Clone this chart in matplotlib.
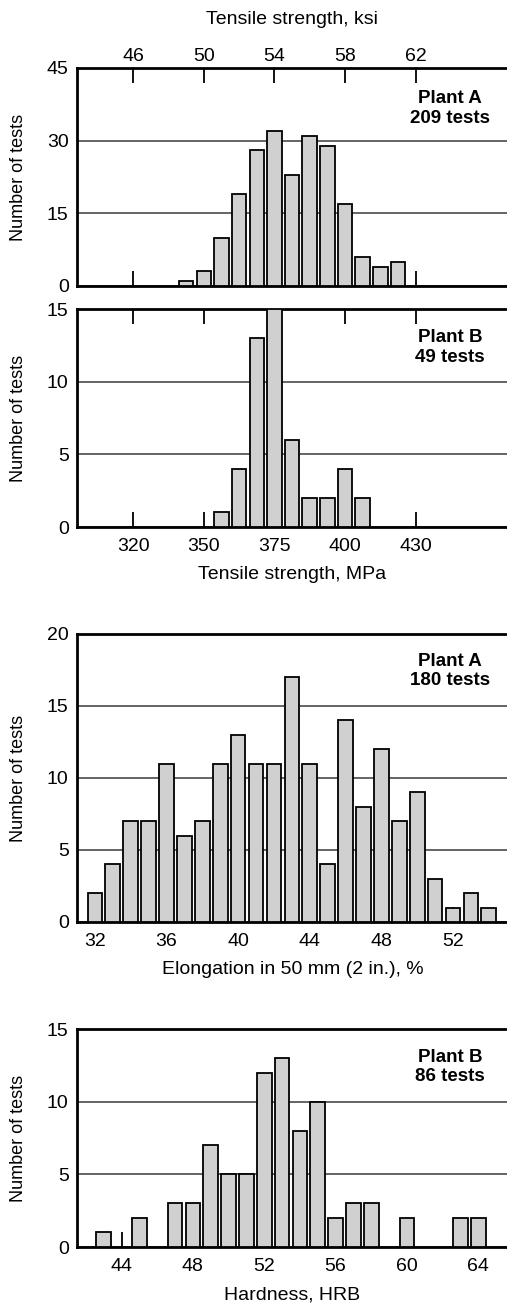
import matplotlib
matplotlib.use("Agg")
import matplotlib.pyplot as plt
from matplotlib.ticker import FixedLocator, FixedFormatter

plt.rcParams['font.family'] = ['Liberation Sans', 'DejaVu Sans']

# Tensile strength (bin centres in ksi)
plant_a_ts_ksi = [49, 50, 51, 52, 53, 54, 55, 56, 57, 58, 59, 60, 61]
plant_a_ts_count = [1, 3, 10, 19, 28, 32, 23, 31, 29, 17, 6, 4, 5]
plant_b_ts_ksi = [51, 52, 53, 54, 55, 56, 57, 58, 59]
plant_b_ts_count = [1, 4, 13, 15, 6, 2, 2, 4, 2]
ksi_ticks = [46, 50, 54, 58, 62]
mpa_labels = ["320", "350", "375", "400", "430"]

# Elongation, Plant A
elong_pct = [32, 33, 34, 35, 36, 37, 38, 39, 40, 41, 42, 43, 44, 45, 46, 47,
             48, 49, 50, 51, 52, 53, 54]
elong_count = [2, 4, 7, 7, 11, 6, 7, 11, 13, 11, 11, 17, 11, 4, 14, 8,
               12, 7, 9, 3, 1, 2, 1]
elong_ticks = [32, 36, 40, 44, 48, 52]

# Hardness, Plant B
hrb = [43, 45, 47, 48, 49, 50, 51, 52, 53, 54, 55, 56, 57, 58, 60, 63, 64]
hrb_count = [1, 2, 3, 3, 7, 5, 5, 12, 13, 8, 10, 2, 3, 3, 2, 2, 2]
hrb_ticks = [44, 48, 52, 56, 60, 64]

W, H = 507, 1309
fig = plt.figure(figsize=(W / 100, H / 100), dpi=100)

FS_TICK = 14
FS_XLAB = 14
FS_YLAB = 13
FS_TAG = 13.5
BAR_FC = '#d0d0d0'
GRID_C = '#3a3a3a'


def make_axes(top, bottom, left=77, right=508):
    return fig.add_axes([left / W, 1 - bottom / H, (right - left) / W, (bottom - top) / H])


def style(ax, ylim, yticks, xlim):
    ax.set_xlim(*xlim)
    ax.set_ylim(*ylim)
    ax.set_axisbelow(True)
    ax.yaxis.set_major_locator(FixedLocator(yticks))
    ax.yaxis.grid(True, color=GRID_C, linewidth=1.1)
    ax.tick_params(axis='y', length=0, labelsize=FS_TICK, pad=6)
    ax.tick_params(axis='x', direction='in', length=10.5, width=1.3,
                   labelsize=FS_TICK, pad=8)
    for s in ('left', 'bottom', 'top'):
        ax.spines[s].set_linewidth(2.0)
    ax.spines['right'].set_visible(False)
    ax.set_ylabel("Number of tests", fontsize=FS_YLAB, labelpad=14)


def bars(ax, x, y):
    ax.bar(x, y, width=0.82, color=BAR_FC, edgecolor='black', linewidth=1.3, zorder=3)


def tag(ax, text, yc):
    ax.text(0.866, yc, text, transform=ax.transAxes, ha='center', va='center',
            fontsize=FS_TAG, fontweight='bold', linespacing=1.2)


ts_xlim = (42.82, 67.23)

# Panel 1: tensile strength, Plant A
ax1 = make_axes(68, 286)
bars(ax1, plant_a_ts_ksi, plant_a_ts_count)
style(ax1, (0, 45), [0, 15, 30, 45], ts_xlim)
ax1.xaxis.set_major_locator(FixedLocator(ksi_ticks))
ax1.tick_params(axis='x', top=True, bottom=True, labeltop=True, labelbottom=False, pad=2.5)
ax1.xaxis.set_label_position('top')
ax1.set_xlabel("Tensile strength, ksi", fontsize=FS_XLAB, labelpad=17)
tag(ax1, "Plant A\n209 tests", 0.814)

# Panel 2: tensile strength, Plant B
ax2 = make_axes(309, 527)
bars(ax2, plant_b_ts_ksi, plant_b_ts_count)
style(ax2, (0, 15), [0, 5, 10, 15], ts_xlim)
ax2.xaxis.set_major_locator(FixedLocator(ksi_ticks))
ax2.xaxis.set_major_formatter(FixedFormatter(mpa_labels))
ax2.tick_params(axis='x', top=True, bottom=True, labeltop=False, labelbottom=True)
ax2.set_xlabel("Tensile strength, MPa", fontsize=FS_XLAB, labelpad=8)
tag(ax2, "Plant B\n49 tests", 0.824)

# Panel 3: elongation, Plant A
ax3 = make_axes(634, 922)
bars(ax3, elong_pct, elong_count)
style(ax3, (0, 20), [0, 5, 10, 15, 20], (31.0, 55.07))
ax3.xaxis.set_major_locator(FixedLocator(elong_ticks))
ax3.tick_params(axis='x', top=False, bottom=True)
ax3.set_xlabel("Elongation in 50 mm (2 in.), %", fontsize=FS_XLAB, labelpad=8)
tag(ax3, "Plant A\n180 tests", 0.872)

# Panel 4: hardness, Plant B
ax4 = make_axes(1029, 1247)
bars(ax4, hrb, hrb_count)
style(ax4, (0, 15), [0, 5, 10, 15], (41.5, 65.67))
ax4.xaxis.set_major_locator(FixedLocator(hrb_ticks))
ax4.tick_params(axis='x', top=False, bottom=True)
ax4.set_xlabel("Hardness, HRB", fontsize=FS_XLAB, labelpad=8)
tag(ax4, "Plant B\n86 tests", 0.826)

fig.savefig("out.png", dpi=100)
